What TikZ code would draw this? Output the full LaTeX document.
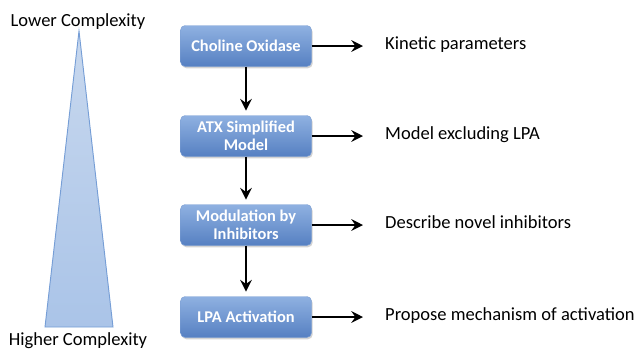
\documentclass[tikz,border=0pt]{standalone}
\usepackage{fontspec}
\setmainfont{Carlito}
\usetikzlibrary{arrows.meta, shadows}

\definecolor{boxtop}{RGB}{143,177,225}
\definecolor{boxbot}{RGB}{86,128,194}
\definecolor{boxedge}{RGB}{125,160,212}
\definecolor{tritop}{RGB}{200,216,238}
\definecolor{tribot}{RGB}{170,196,232}
\definecolor{triedge}{RGB}{118,158,214}

\begin{document}
\begin{tikzpicture}[x=0.03cm, y=-0.03cm]
	\tikzstyle{stage}=[draw=boxedge, rounded corners=4pt, top color=boxtop, bottom color=boxbot,
		drop shadow={opacity=0.35, shadow xshift=1pt, shadow yshift=-1.5pt},
		text=white, font=\fontsize{14}{15.5}\selectfont\bfseries, align=center,
		minimum width=3.93cm, minimum height=1.23cm, inner sep=0pt]
	\tikzstyle{result}=[anchor=west, inner sep=0pt, text height=0.64em, text depth=0pt,
		font=\fontsize{15.8}{18}\selectfont]
	\tikzstyle{flow}=[-{Stealth[length=10pt, width=10pt, inset=3.5pt]}, line width=2pt]
	\useasboundingbox (0,0) rectangle (636,350);

	% complexity scale
	\draw[triedge, line width=0.8pt, top color=tritop, bottom color=tribot]
		(79,31) -- (113,327) -- (45,327) -- cycle;
	\node[anchor=base, inner sep=0pt, font=\fontsize{15.8}{18}\selectfont] (low) at (78,26) {Lower Complexity};
	\node[anchor=base, inner sep=0pt, font=\fontsize{15.8}{18}\selectfont] (high) at (78,345) {Higher Complexity};

	% stages
	\node[stage] (oxidase) at (246,46) {Choline Oxidase};
	\node[stage] (simple) at (246,136) {ATX Simplified\\Model};
	\node[stage] (inhib) at (246,225) {Modulation by\\Inhibitors};
	\node[stage] (lpa) at (246,317) {LPA Activation};

	% outcomes
	\node[result] (kinetic) at (385,46) {Kinetic parameters};
	\node[result] (nolpa) at (385,136) {Model excluding LPA};
	\node[result] (novel) at (385,225) {Describe novel inhibitors};
	\node[result] (mech) at (385,317) {Propose mechanism of activation};

	\draw[flow, shorten >=4pt] (oxidase) -- (simple);
	\draw[flow, shorten >=4pt] (simple) -- (inhib);
	\draw[flow, shorten >=4pt] (inhib) -- (lpa);

	\draw[flow, shorten >=0.66cm] (oxidase.east) -- (kinetic.west |- oxidase.east);
	\draw[flow, shorten >=0.66cm] (simple.east) -- (nolpa.west |- simple.east);
	\draw[flow, shorten >=0.66cm] (inhib.east) -- (novel.west |- inhib.east);
	\draw[flow, shorten >=0.66cm] (lpa.east) -- (mech.west |- lpa.east);
\end{tikzpicture}
\end{document}
